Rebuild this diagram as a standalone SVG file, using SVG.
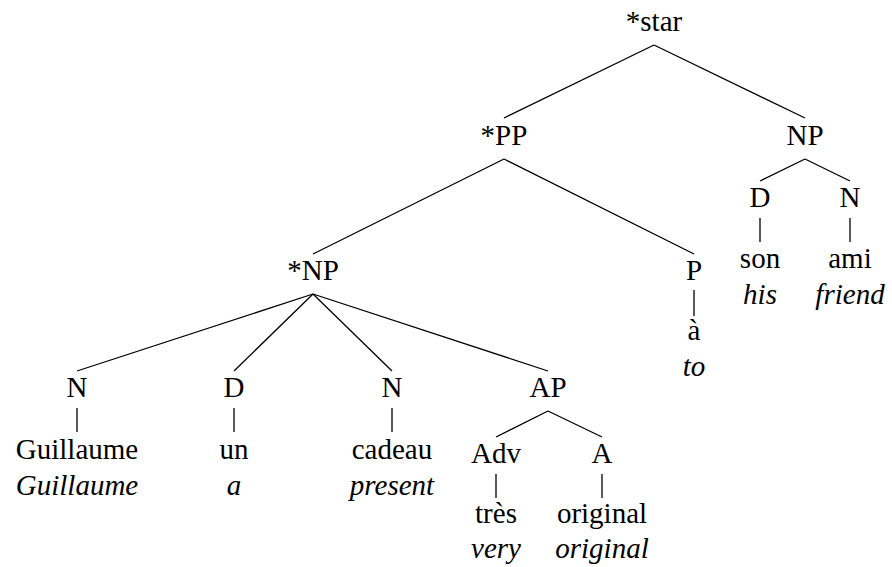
<svg xmlns="http://www.w3.org/2000/svg" width="892" height="567" viewBox="0 0 892 567">
<style>
text{font-size:29px;fill:#000;text-anchor:middle}
.g{font-style:italic}
#edges line{stroke:#000;stroke-width:1.3}
</style>
<rect width="892" height="567" fill="#fff"/>
<g id="edges">
<line x1="654" y1="45" x2="504" y2="118"/>
<line x1="654" y1="45" x2="805" y2="118"/>
<line x1="504" y1="159" x2="313" y2="254"/>
<line x1="504" y1="159" x2="694" y2="254"/>
<line x1="805" y1="159" x2="760" y2="181"/>
<line x1="805" y1="159" x2="850" y2="181"/>
<line x1="760" y1="218" x2="760" y2="242"/>
<line x1="850" y1="218" x2="850" y2="242"/>
<line x1="694" y1="290" x2="694" y2="316"/>
<line x1="313" y1="294" x2="77" y2="371"/>
<line x1="313" y1="294" x2="234" y2="371"/>
<line x1="313" y1="294" x2="392" y2="371"/>
<line x1="313" y1="294" x2="548" y2="371"/>
<line x1="77" y1="408" x2="77" y2="432"/>
<line x1="234" y1="408" x2="234" y2="432"/>
<line x1="392" y1="408" x2="392" y2="432"/>
<line x1="548" y1="411" x2="496" y2="437"/>
<line x1="548" y1="411" x2="602" y2="437"/>
<line x1="496" y1="474" x2="496" y2="498"/>
<line x1="602" y1="474" x2="602" y2="498"/>
</g>
<g id="nodes" font-family="Liberation Serif, DejaVu Serif, serif">
<g id="star"><text x="654" y="31">*star</text></g>
<g id="pp"><text x="504" y="145">*PP</text></g>
<g id="np2"><text x="805" y="145">NP</text></g>
<g id="d2"><text x="760" y="207">D</text></g>
<g id="n4"><text x="850" y="207">N</text></g>
<g id="son"><text x="760" y="268">son</text><text class="g" x="760" y="304">his</text></g>
<g id="ami"><text x="850" y="268">ami</text><text class="g" x="850" y="304">friend</text></g>
<g id="np1"><text x="313" y="280">*NP</text></g>
<g id="p"><text x="694" y="280">P</text></g>
<g id="a-word"><text x="694" y="340">à</text><text class="g" x="694" y="376">to</text></g>
<g id="n1"><text x="77" y="397">N</text></g>
<g id="d1"><text x="234" y="397">D</text></g>
<g id="n2"><text x="392" y="397">N</text></g>
<g id="ap"><text x="548" y="397">AP</text></g>
<g id="guillaume"><text x="77" y="459">Guillaume</text><text class="g" x="77" y="495">Guillaume</text></g>
<g id="un"><text x="234" y="459">un</text><text class="g" x="234" y="495">a</text></g>
<g id="cadeau"><text x="392" y="459">cadeau</text><text class="g" x="392" y="495">present</text></g>
<g id="adv"><text x="496" y="463">Adv</text></g>
<g id="adj"><text x="602" y="463">A</text></g>
<g id="tres"><text x="496" y="523">très</text><text class="g" x="496" y="558">very</text></g>
<g id="original"><text x="602" y="523">original</text><text class="g" x="602" y="558">original</text></g>
</g>
</svg>
